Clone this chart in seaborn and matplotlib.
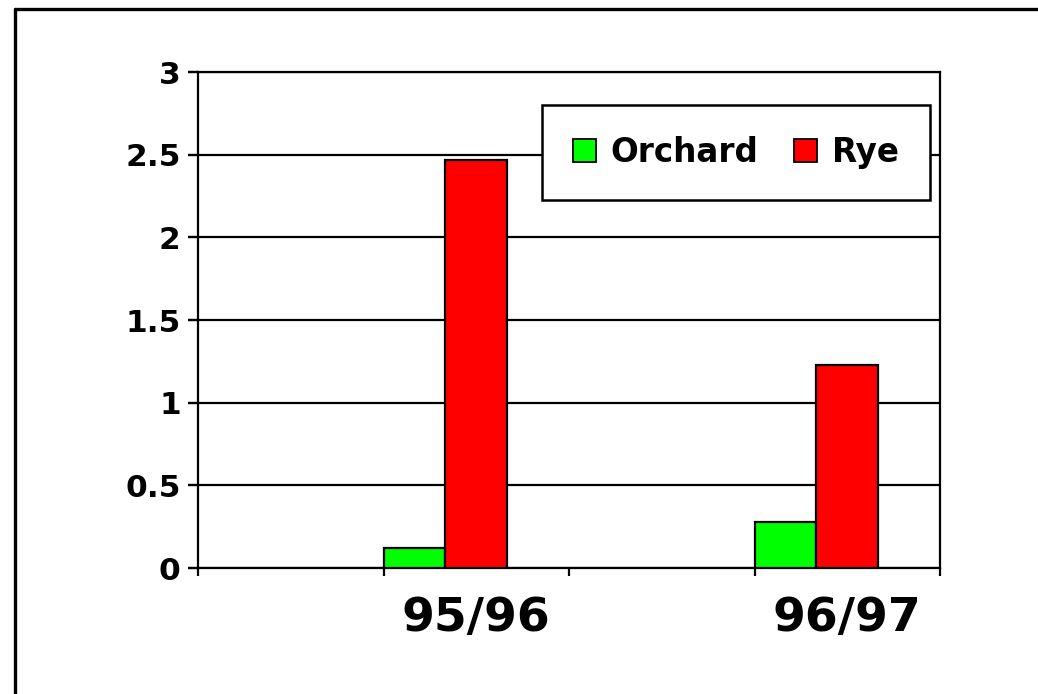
import numpy as np
import pandas as pd
import matplotlib
matplotlib.use("Agg")
import matplotlib.pyplot as plt
from matplotlib.lines import Line2D
import seaborn as sns

# Category slots along the x axis (blank slots keep the spacing of the original sheet)
seasons = ["", "95/96", " ", "96/97"]
measured_seasons = ["95/96", "96/97"]
orchard = [0.12, 0.28]
rye = [2.47, 1.23]
series = ["Orchard", "Rye", "Other"]
colors = ["#00FF00", "#FF0000", "#FFFFFF"]
y_ticks = [0, 0.5, 1, 1.5, 2, 2.5, 3]

df = pd.DataFrame({
    "season": measured_seasons * 2,
    "grass": ["Orchard"] * len(orchard) + ["Rye"] * len(rye),
    "value": orchard + rye,
})

sns.set_theme(style="white", rc={
    "xtick.bottom": True, "ytick.left": True,
    "xtick.minor.bottom": True, "ytick.minor.left": True,
    "axes.axisbelow": "line",
    "text.color": "black", "axes.labelcolor": "black",
    "xtick.color": "black", "ytick.color": "black",
})
plt.rcParams["font.family"] = ["DejaVu Sans"]
plt.rcParams["font.weight"] = "bold"

W, H = 1038, 694
fig = plt.figure(figsize=(W / 100, H / 100), dpi=100)
ax = fig.add_axes([198 / W, 1 - 568 / H, (940 - 198) / W, (568 - 72) / H])

sns.barplot(data=df, x="season", y="value", hue="grass", order=seasons,
            hue_order=series, palette=colors, width=1.0, dodge=True,
            edgecolor="black", linewidth=1.6, saturation=1.0, legend=False,
            errorbar=None, ax=ax, zorder=3)

ax.set_xlim(-0.5, len(seasons) - 0.5)
ax.set_ylim(0, 3)

# Value axis: labelled ticks with short outward marks
ax.set_yticks(y_ticks)
ax.set_yticklabels([f"{t:g}" for t in y_ticks], fontsize=22.5, fontweight="bold",
                   color="black")
ax.tick_params(axis="y", which="major", left=True, length=7.5, width=1.6,
               color="black", direction="out", pad=5)
ax.hlines(y_ticks, -0.0135, 0, transform=ax.get_yaxis_transform(),
          colors="black", linewidth=1.6, clip_on=False, zorder=6)

# Category axis: labels at slot centres, tick marks at slot boundaries
ax.set_xticks(range(len(seasons)))
ax.set_xticklabels(seasons, fontsize=34, fontweight="bold", color="black")
ax.set_xticks(np.arange(-0.5, len(seasons)), minor=True)
ax.tick_params(axis="x", which="major", bottom=True, length=0, pad=20)
ax.tick_params(axis="x", which="minor", bottom=True, length=6, width=1.6,
               color="black", direction="out")
ax.set_xlabel("")
ax.set_ylabel("")

ax.yaxis.grid(True, which="major", color="black", linewidth=1.6)
for s in ax.spines.values():
    s.set_visible(True)
    s.set_color("black")
    s.set_linewidth(1.6)

# Legend built from the two visible series
handles = [plt.Rectangle((0, 0), 1, 1, facecolor=c, edgecolor="black", linewidth=1.3)
           for c in colors[:2]]
leg = ax.legend(handles, series[:2], loc="center", bbox_to_anchor=(0.725, 0.8377),
                ncol=2, frameon=True, fancybox=False, shadow=False,
                prop={"size": 23.5, "weight": "bold"},
                handlelength=0.7, handleheight=0.7, handletextpad=0.45,
                columnspacing=1.1, borderpad=0.95, borderaxespad=0)
leg.set_zorder(10)
leg.get_frame().set_edgecolor("black")
leg.get_frame().set_linewidth(1.8)
leg.get_frame().set_facecolor("white")
leg.get_frame().set_alpha(1)
for t in leg.get_texts():
    t.set_color("black")

# Outer frame lines at the left and top of the figure
fig.add_artist(Line2D([15 / W, 15 / W], [0, 1 - 9 / H], transform=fig.transFigure,
                      color="black", linewidth=2.4))
fig.add_artist(Line2D([15 / W, 1], [1 - 9 / H, 1 - 9 / H], transform=fig.transFigure,
                      color="black", linewidth=2.4))

fig.savefig("out.png", dpi=100, facecolor="white")
